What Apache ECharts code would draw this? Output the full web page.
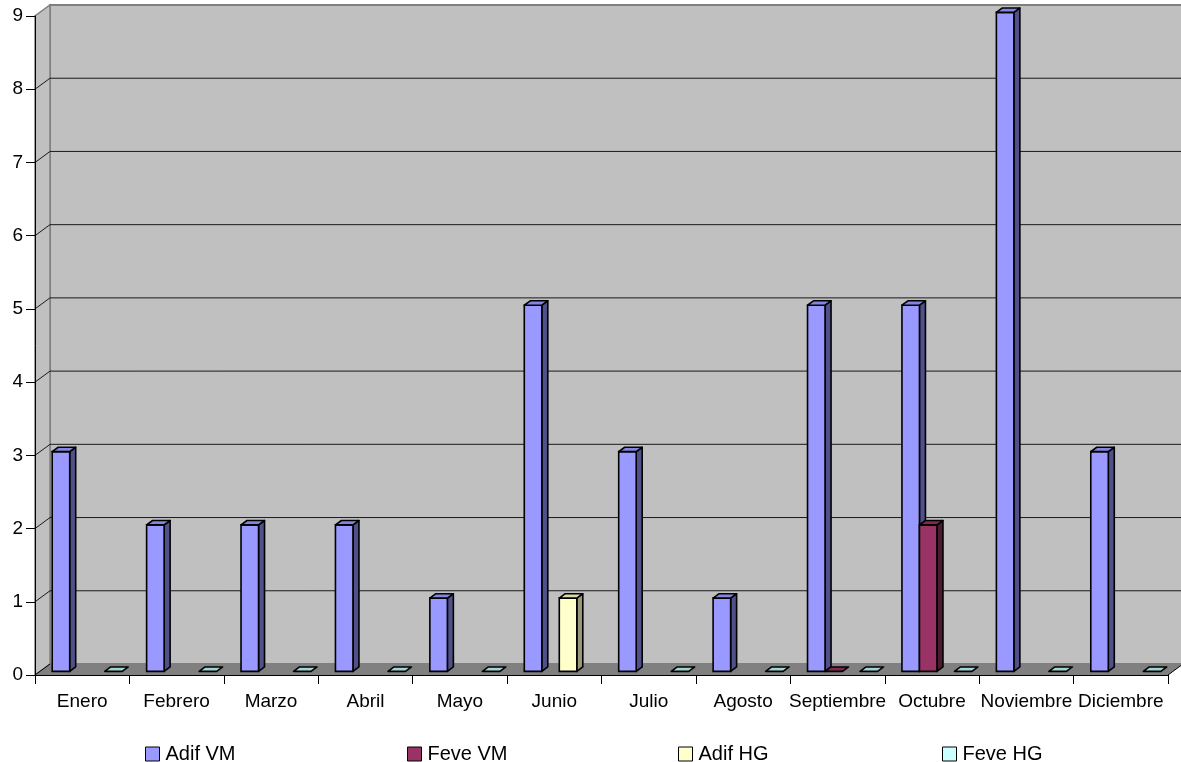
<!DOCTYPE html>
<html>
<head>
<meta charset="utf-8">
<script src="https://cdn.jsdelivr.net/npm/echarts@6/dist/echarts.min.js"></script>
<style>
html,body{margin:0;padding:0;background:#ffffff;}
#c{width:1181px;height:762px;}
</style>
</head>
<body>
<div id="c"></div>
<script>
// ---- data ----
const months = ['Enero','Febrero','Marzo','Abril','Mayo','Junio','Julio','Agosto','Septiembre','Octubre','Noviembre','Diciembre'];
const yTicks = [0,1,2,3,4,5,6,7,8,9];
const seriesNames = ['Adif VM','Feve VM','Adif HG','Feve HG'];
const adifVM = [3,2,2,2,1,5,3,1,5,5,9,3];
const feveVM = [null,null,null,null,null,null,null,null,0,2,null,null];
const adifHG = [null,null,null,null,null,1,null,null,null,null,null,null];
const feveHG = [0,0,0,0,0,null,0,0,0,0,0,0];
const allValues = [adifVM, feveVM, adifHG, feveHG];

// ---- styles ----
const frontColors = ['#9999FF','#993366','#FFFFCC','#CCFFFF'];
const topColors   = ['#8585E0','#80294F','#DADAAA','#A3D4D4'];
const sideColors  = ['#50508A','#4D1A33','#999978','#7FA6A6'];
const FONT = '"Liberation Sans", Arial, sans-serif';
const DEPTH = [15, -11];      // full depth offset of the 3D box (px)
const FRONT = 1/3;            // bars' front plane, as fraction of depth
const BDEPTH = 0.4;           // bars' depth, as fraction of depth
const BAR_FRAC = 0.1854;      // bar width as fraction of category band
const legendLefts = [145, 407, 678, 942];

function renderWalls(params, api) {
  const cs = params.coordSys;
  const x0 = cs.x, x1 = cs.x + cs.width, yb = cs.y + cs.height, yt = cs.y;
  const dx = DEPTH[0], dy = DEPTH[1];
  const ch = [];
  ch.push({type:'rect', shape:{x:x0+dx, y:yt+dy, width:x1-x0, height:yb-yt},
    style:{fill:'#C0C0C0', stroke:'#808080', lineWidth:2}});
  ch.push({type:'polygon', shape:{points:[[x0,yb],[x0+dx,yb+dy],[x0+dx,yt+dy],[x0,yt]]},
    style:{fill:'#C0C0C0', stroke:'#808080', lineWidth:1.5}});
  ch.push({type:'polygon', shape:{points:[[x0,yb],[x1,yb],[x1+dx,yb+dy],[x0+dx,yb+dy]]},
    style:{fill:'#808080', stroke:null}});
  ch.push({type:'line', shape:{x1:x1, y1:yb, x2:x1+dx, y2:yb+dy}, style:{stroke:'#000', lineWidth:1}});
  yTicks.forEach(function(t, i){
    const y = api.coord([0, t])[1];
    if (i === yTicks.length - 1) return;
    if (i === 0) {
      ch.push({type:'line', shape:{x1:x0, y1:y, x2:x0+dx, y2:y+dy}, style:{stroke:'#000', lineWidth:1}});
      return;
    }
    ch.push({type:'polyline', shape:{points:[[x0,y],[x0+dx,y+dy],[x1+dx,y+dy]]},
      style:{stroke:'#1a1a1a', lineWidth:1, fill:null}});
  });
  return {type:'group', children:ch};
}

function makeBarRenderer(slot) {
  return function(params, api) {
    const c = api.value(0), v = api.value(1);
    const p = api.coord([c, v]);
    const p0 = api.coord([c, 0]);
    const band = api.size([1, 0])[0];
    const bw = band * BAR_FRAC;
    const sx = DEPTH[0]*FRONT, sy = DEPTH[1]*FRONT;
    const bdx = DEPTH[0]*BDEPTH, bdy = DEPTH[1]*BDEPTH;
    const xL = p[0] + sx - 2*bw + slot*bw, xR = xL + bw;
    const yT = p[1] + sy, yB = p0[1] + sy;
    const lw = 1.6;
    const ch = [];
    if (yB - yT > 0.5) {
      ch.push({type:'polygon', shape:{points:[[xR,yB],[xR+bdx,yB+bdy],[xR+bdx,yT+bdy],[xR,yT]]},
        style:{fill:sideColors[slot], stroke:'#000', lineWidth:lw, lineJoin:'round'}});
      ch.push({type:'rect', shape:{x:xL, y:yT, width:bw, height:yB-yT},
        style:{fill:frontColors[slot], stroke:'#000', lineWidth:lw}});
    }
    ch.push({type:'polygon', shape:{points:[[xL,yT],[xR,yT],[xR+bdx,yT+bdy],[xL+bdx,yT+bdy]]},
      style:{fill:topColors[slot], stroke:'#000', lineWidth:lw, lineJoin:'round'}});
    return {type:'group', children:ch};
  };
}

const barSeries = seriesNames.map(function(name, s){
  const data = [];
  allValues[s].forEach(function(v, i){ if (v !== null) data.push([i, v]); });
  return {
    type:'custom', name:name, renderItem:makeBarRenderer(s), data:data,
    encode:{x:0, y:1}, clip:false, z:3,
    itemStyle:{color:frontColors[s], borderColor:'#000', borderWidth:1}
  };
});

const chart = echarts.init(document.getElementById('c'), null, {renderer:'canvas'});
chart.setOption({
  animation:false,
  backgroundColor:'#ffffff',
  grid:{left:35, right:13, top:16, bottom:87},
  xAxis:{
    type:'category', data:months, boundaryGap:true, z:10,
    axisLine:{show:true, lineStyle:{color:'#000', width:1}},
    axisTick:{show:true, interval:0, length:9, lineStyle:{color:'#000'}},
    axisLabel:{interval:0, color:'#000', fontFamily:FONT, fontSize:19, margin:17},
    splitLine:{show:false}
  },
  yAxis:{
    type:'value', min:0, max:9, interval:1, z:10,
    axisLine:{show:true, lineStyle:{color:'#000', width:1}},
    axisTick:{show:true, length:9, lineStyle:{color:'#000'}},
    axisLabel:{color:'#000', fontFamily:FONT, fontSize:19, margin:12},
    splitLine:{show:false}
  },
  legend: seriesNames.map(function(n, i){
    return {
      data:[n], left:legendLefts[i], top:744, padding:0, icon:'rect',
      itemWidth:14, itemHeight:14, itemGap:0,
      itemStyle:{borderColor:'#000', borderWidth:1},
      textStyle:{color:'#000', fontFamily:FONT, fontSize:20, lineHeight:14, padding:[0,0,0,1]}
    };
  }),
  series: [{
    type:'custom', name:'walls', renderItem:renderWalls, data:[[0,0]],
    encode:{x:0, y:1}, clip:false, silent:true, z:1
  }].concat(barSeries)
});
</script>
</body>
</html>
